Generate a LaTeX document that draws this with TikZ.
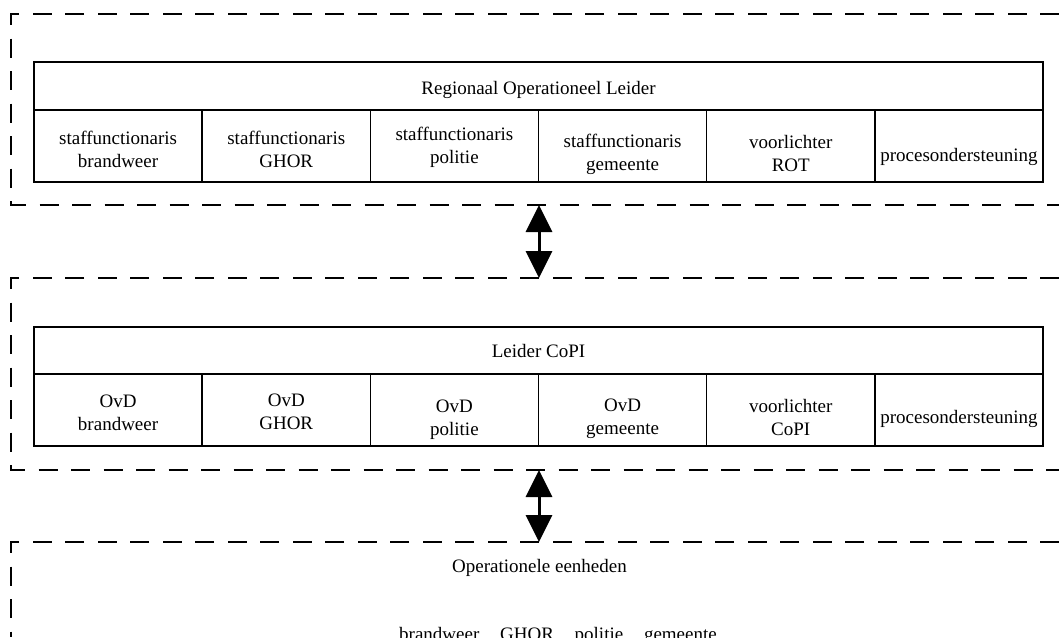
\documentclass[tikz,border=0pt]{standalone}
\usepackage{fontspec}
\setmainfont{Liberation Serif}
\usetikzlibrary{arrows.meta}

\begin{document}
\begin{tikzpicture}[x=1pt, y=-1pt,
    every node/.style={font=\fontsize{19}{23}\selectfont},
    kop/.style={draw, line width=1.5pt, minimum width=1009pt, minimum height=48pt, inner sep=0pt},
    cel/.style={draw, line width=1.5pt, minimum width=168.17pt, minimum height=72pt, inner sep=0pt, align=center,
        text depth=0pt, text height=#1},
    cel/.default=40pt,
    kader/.style={draw, line width=2.5pt, dash pattern=on 19pt off 13.5pt},
    pijl/.style={line width=3pt, {Triangle[width=26pt,length=27pt]}-{Triangle[width=26pt,length=27pt]}}]
                \useasboundingbox (0,0) rectangle (1059,637);

                \draw[kader] (1059,14) -| (11,205) -- (1059,205);
                \draw[kader] (1059,278) -| (11,470) -- (1059,470);
                \draw[kader] (1059,542) -| (11,637);

                \node[kop, text height=16pt, text depth=0pt] (rol) at (538.5,86) {Regionaal Operationeel Leider};
                \node[cel=42pt] (rot1) at (118.08,146) {staffunctionaris\\brandweer};
                \node[cel=42pt] (rot2) at (286.25,146) {staffunctionaris\\GHOR};
                \node[cel=34pt] (rot3) at (454.42,146) {staffunctionaris\\politie};
                \node[cel=48pt] (rot4) at (622.58,146) {staffunctionaris\\gemeente};
                \node[cel=50pt] (rot5) at (790.75,146) {voorlichter\\ROT};
                \node[cel=30pt] (rot6) at (958.92,146) {procesondersteuning};

                \node[kop, minimum height=47pt] (lcp) at (538.5,350.5) {Leider CoPI};
                \node[cel=40pt] (cop1) at (118.08,410) {OvD\\brandweer};
                \node[cel=38pt] (cop2) at (286.25,410) {OvD\\GHOR};
                \node[cel=50pt] (cop3) at (454.42,410) {OvD\\politie};
                \node[cel=48pt] (cop4) at (622.58,410) {OvD\\gemeente};
                \node[cel=50pt] (cop5) at (790.75,410) {voorlichter\\CoPI};
                \node[cel=26pt] (cop6) at (958.92,410) {procesondersteuning};

                \node[anchor=base] (oe) at (539.5,572) {Operationele eenheden};
                \node[anchor=base] (oe2) at (558,640) {brandweer\hspace{16pt} GHOR\hspace{16pt} politie\hspace{16pt} gemeente};

                \coordinate (rotrand) at (539,205);
                \coordinate (copboven) at (539,278);
                \coordinate (coponder) at (539,470);
                \coordinate (oerand) at (539,542);
                \draw[pijl] (rotrand) -- (copboven);
                \draw[pijl] (coponder) -- (oerand);
            \end{tikzpicture}
\end{document}
